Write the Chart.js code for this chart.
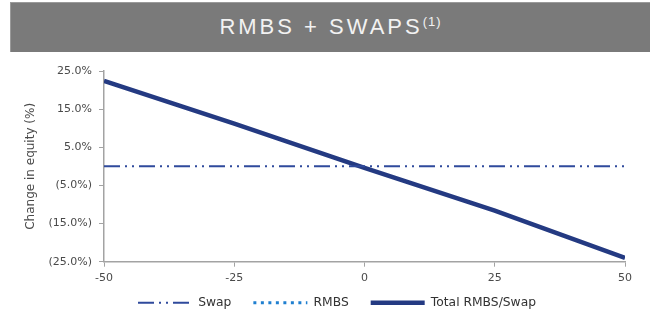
<!DOCTYPE html>
<html>
<head>
<meta charset="utf-8">
<script src="https://cdn.jsdelivr.net/npm/chart.js@4.4.1/dist/chart.umd.min.js"></script>
<style>
  html, body { margin: 0; padding: 0; background: #fff; }
  #wrap { position: relative; width: 650px; height: 324px; overflow: hidden; }
  #banner {
    position: absolute; left: 10px; top: 2px; width: 640px; height: 50px;
    background: #7a7a7a; border-top: 1px solid #9a9a9a; border-left: 1px solid #9a9a9a;
    box-sizing: border-box;
    color: #f2f2f2; font-family: "Liberation Sans", Arial, sans-serif; font-size: 22px;
    letter-spacing: 3px; text-align: center; line-height: 48px;
  }
  #banner sup { font-size: 13px; letter-spacing: 1px; vertical-align: 8px; line-height: 0; }
  #chart { position: absolute; left: 0; top: 0; }
</style>
</head>
<body>
<div id="wrap">
  <canvas id="chart" width="650" height="324"></canvas>
  <div id="banner">RMBS + SWAPS<sup>(1)</sup></div>
</div>
<script>
/* rate shock (bp) */
let shocks = [-50, -25, 0, 25, 50]

/* change in equity (%) */
let swapValues = [0, 0, 0, 0, 0]
let rmbsValues = [null, null, null, null, null] // not visible in the chart, legend only
let totalValues = [22.4, 11.2, -0.4, -11.6, -24.0]

let yTicks = [-25, -15, -5, 5, 15, 25]

function toPoints(values) {
    return shocks.map(function(x, i) { return { x: x, y: values[i] } })
}

function pctLabel(v) {
    if (v < 0) return '(' + Math.abs(v).toFixed(1) + '%)'
    return v.toFixed(1) + '%'
}

let ctx = document.querySelector('#chart').getContext('2d')

let axisGray = '#a3a3a3'
let textGray = '#4a4a4a'

// x axis box is kept short so the legend sits close, but its labels still need room to draw
let xLabelRoom = {
    id: 'xLabelRoom',
    afterLayout: function(chart) {
        let x = chart.scales.x
        x.bottom = x.top + 26
    }
}

new Chart(ctx, {
    type: 'line',
    data: {
        datasets: [
            {
                label: 'Swap',
                data: toPoints(swapValues),
                borderColor: '#2f4a9c',
                borderWidth: 2,
                borderDash: [16, 5, 2, 5, 2, 5],
                pointRadius: 0
            },
            {
                label: 'RMBS',
                data: toPoints(rmbsValues),
                borderColor: '#1f7fd0',
                borderWidth: 3,
                borderDash: [3, 4.5],
                pointRadius: 0
            },
            {
                label: 'Total RMBS/Swap',
                data: toPoints(totalValues),
                borderColor: '#243a82',
                borderWidth: 4.5,
                pointRadius: 0
            }
        ]
    },
    plugins: [xLabelRoom],
    options: {
        responsive: false,
        animation: false,
        events: [],
        layout: { padding: { left: 24, right: 0, top: 71, bottom: 5 } },
        plugins: {
            tooltip: { enabled: false },
            legend: {
                position: 'bottom',
                labels: {
                    usePointStyle: true,
                    pointStyle: 'line',
                    pointStyleWidth: 54,
                    padding: 22,
                    color: '#333',
                    font: { family: 'DejaVu Sans', size: 12.3 },
                    // keep the dash pattern of each line in its legend sample
                    generateLabels: function(chart) {
                        let items = Chart.defaults.plugins.legend.labels.generateLabels(chart)
                        items.forEach(function(item) {
                            let ds = chart.data.datasets[item.datasetIndex]
                            item.lineDash = ds.borderDash || []
                            item.lineWidth = ds.borderWidth
                            item.strokeStyle = ds.borderColor
                        })
                        return items
                    }
                }
            }
        },
        scales: {
            x: {
                type: 'linear',
                min: -50,
                max: 50,
                ticks: {
                    stepSize: 25,
                    padding: 5,
                    color: textGray,
                    font: { family: 'DejaVu Sans', size: 11 }
                },
                grid: { drawOnChartArea: false, color: axisGray, tickLength: 5 },
                border: { color: axisGray, width: 1.5 },
                afterFit: function(scale) {
                    scale.height = 13
                    scale.paddingRight = 25
                }
            },
            y: {
                min: -25,
                max: 25,
                afterBuildTicks: function(scale) {
                    scale.ticks = yTicks.map(function(v) { return { value: v } })
                },
                ticks: {
                    padding: 7,
                    color: textGray,
                    font: { family: 'DejaVu Sans', size: 11 },
                    callback: function(v) { return pctLabel(v) }
                },
                grid: { drawOnChartArea: false, color: axisGray, tickLength: 5 },
                border: { color: axisGray, width: 1.5 },
                title: {
                    display: true,
                    text: 'Change in equity (%)',
                    color: textGray,
                    padding: 0,
                    font: { family: 'DejaVu Sans', size: 12 }
                },
                afterFit: function(scale) {
                    scale.width = 80
                }
            }
        }
    }
})
</script>
</body>
</html>
